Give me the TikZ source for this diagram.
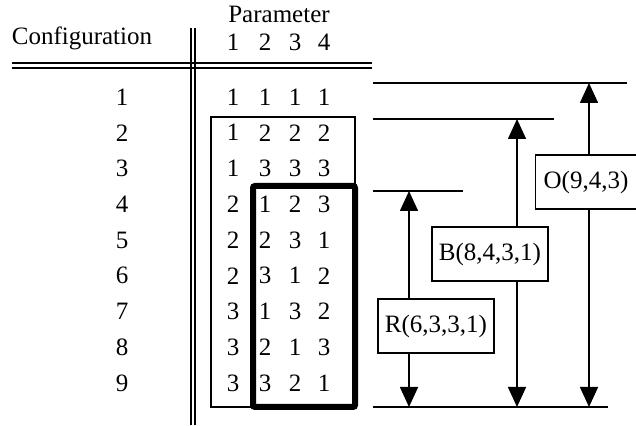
\documentclass[tikz,border=0pt]{standalone}
\usepackage{fontspec}
\setmainfont{Liberation Serif}
\usetikzlibrary{arrows.meta}

\begin{document}
\begin{tikzpicture}[x=0.5pt, y=-0.5pt,
    font=\fontsize{12.5}{15}\selectfont,
    rule/.style={line width=0.8pt},
    bigbox/.style={draw, line width=0.8pt, inner xsep=3.5pt, minimum height=27pt},
    spanup/.style={line width=0.8pt, -{Triangle[width=9pt,length=10pt]}}]
    \useasboundingbox (0,0) rectangle (636,426);

    % Naglowki tabeli
    \node (cfg) at (82,38) {Configuration};
    \node (par) at (279,14) {Parameter};
    \foreach \j/\x in {1/233, 2/265, 3/295, 4/324}
        \node (h\j) at (\x,42) {\j};

    % Podwojne linie
    \draw[rule] (12,63) -- (372,63);
    \draw[rule] (12,68) -- (372,68);
    \draw[rule] (191,28) -- (191,425);
    \draw[rule] (195,28) -- (195,425);

    % Wiersze tabeli
    \foreach \r/\a/\b/\c/\d in {1/1/1/1/1, 2/1/2/2/2, 3/1/3/3/3, 4/2/1/2/3, 5/2/2/3/1,
                                6/2/3/1/2, 7/3/1/3/2, 8/3/2/1/3, 9/3/3/2/1} {
        \pgfmathsetmacro{\y}{97+(\r-1)*35.75}
        \node (cfg\r) at (122,\y) {\r};
        \node (v\r-1) at (233,\y) {\a};
        \node (v\r-2) at (265,\y) {\b};
        \node (v\r-3) at (295,\y) {\c};
        \node (v\r-4) at (324,\y) {\d};
    }

    % Ramki
    \draw[rule] (211,117) rectangle (355,407);
    \draw[line width=3pt, rounded corners=1pt] (253,186) rectangle (355,407);

    % Poziomy
    \draw[rule] (373,83) coordinate (otop) -- (627,83);
    \draw[rule] (373,119) coordinate (btop) -- (554,119);
    \draw[rule] (373,191) coordinate (rtop) -- (463,191);
    \draw[rule] (373,407) coordinate (base) -- (608,407);

    % Opisy i strzalki
    \node[bigbox] (R) at (436,326) {R(6,3,3,1)};
    \node[bigbox] (B) at (490,254) {B(8,4,3,1)};
    \node[bigbox, inner xsep=4pt] (O) at (586,182) {O(9,4,3)};

    \draw[spanup] (R.north -| 409,0) -- (409,191);
    \draw[spanup] (R.south -| 409,0) -- (409,407);
    \draw[spanup] (B.north -| 517,0) -- (517,119);
    \draw[spanup] (B.south -| 517,0) -- (517,407);
    \draw[spanup] (O.north -| 589,0) -- (589,83);
    \draw[spanup] (O.south -| 589,0) -- (589,407);
\end{tikzpicture}
\end{document}
